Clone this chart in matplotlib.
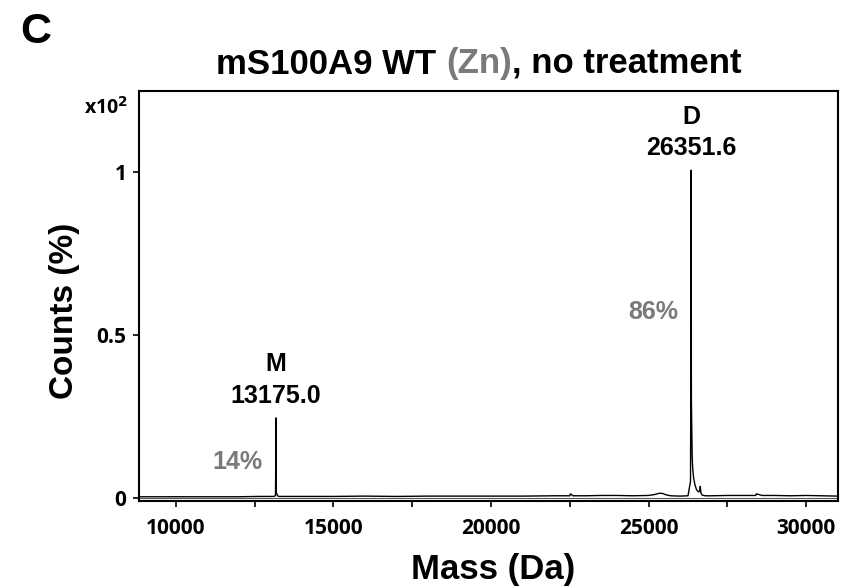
import matplotlib.pyplot as plt
import numpy as np

# spectrum (mass in Da, counts in x10^2 %)
mass = [8830, 9500, 10500, 11200, 12000, 12600, 13100, 13160, 13170, 13175, 13180,
        13190, 13230, 13260, 13300, 13600, 14200, 15000, 16000, 17000, 18000,
        19000, 20000, 21000, 22000, 22500, 22520, 22600, 23000, 23500, 24000,
        24500, 25000, 25200, 25350, 25450, 25550, 25700, 26000, 26250, 26330,
        26345, 26351, 26358, 26370, 26385, 26400, 26430, 26470, 26520, 26580,
        26620, 26640, 26660, 26700, 26800, 27000, 27500, 28000, 28400, 28420,
        28600, 29000, 29500, 30000, 30500, 31010]
counts = [0.003, 0.003, 0.003, 0.003, 0.003, 0.004, 0.004, 0.006, 0.10, 0.245, 0.02,
          0.015, 0.006, 0.004, 0.004, 0.004, 0.004, 0.004, 0.005, 0.004, 0.005,
          0.005, 0.005, 0.005, 0.006, 0.006, 0.012, 0.006, 0.006, 0.007, 0.007,
          0.006, 0.007, 0.010, 0.014, 0.013, 0.009, 0.006, 0.005, 0.006, 0.05,
          0.5, 1.005, 0.3, 0.21, 0.12, 0.09, 0.06, 0.04, 0.025, 0.018,
          0.02, 0.035, 0.015, 0.008, 0.006, 0.006, 0.007, 0.007, 0.007, 0.012,
          0.007, 0.007, 0.006, 0.007, 0.006, 0.005]

peak_labels = [("M", "13175.0", 13175, 0.245), ("D", "26351.6", 26351.6, 1.005)]
share_labels = [("14%", 11950, 0.11), ("86%", 25150, 0.57)]

x_ticks = [10000, 15000, 20000, 25000, 30000]
x_minor = [12500, 17500, 22500, 27500]
y_ticks = [0, 0.5, 1]
y_ticklabels = ["0", "0.5", "1"]

arial = ['Liberation Sans', 'DejaVu Sans']
tickfont = ['Open Sans', 'DejaVu Sans']
grey = "#7a7a7a"

fig = plt.figure(figsize=(8.42, 5.88), dpi=100)
ax = fig.add_axes([139 / 842, 1 - 501 / 588, (838 - 139) / 842, (501 - 91) / 588])

ax.plot(mass, counts, c="black", lw=1.0)
ax.axhline(0.0, c="#555555", lw=0.8)

ax.set_xlim(8830, 31010)
ax.set_ylim(-0.01, 1.248)

ax.set_xticks(x_ticks)
ax.set_xticks(x_minor, minor=True)
ax.set_xticklabels([str(t) for t in x_ticks], family=tickfont, fontweight='bold', fontsize=15)
ax.set_yticks(y_ticks)
ax.set_yticklabels(y_ticklabels, family=tickfont, fontweight='bold', fontsize=15)
ax.tick_params(which='both', direction='out', length=4, width=1.2, pad=5)
ax.tick_params(axis='x', pad=8)
for s in ax.spines.values():
    s.set_linewidth(1.5)

ax.set_xlabel('Mass (Da)', family=arial, fontweight='bold', fontsize=25, va='center')
ax.xaxis.set_label_coords(0.506, -0.168)
ax.set_ylabel('Counts (%)', family=arial, fontweight='bold', fontsize=24, va='center')
ax.yaxis.set_label_coords(-0.106, 0.463)

ax.text(-0.015, 1 - 6 / 410, 'x10$^{\\mathbf{2}}$', transform=ax.transAxes, ha='right', va='top',
        family=tickfont, fontweight='bold', fontsize=14)

# peak labels
for name, val, x, y in peak_labels:
    ax.annotate(val, (x, y), xytext=(0, 7), textcoords='offset points', ha='center', va='bottom',
                family=arial, fontweight='bold', fontsize=18)
    ax.annotate(name, (x, y), xytext=(0, 30), textcoords='offset points', ha='center', va='bottom',
                family=arial, fontweight='bold', fontsize=18)

for txt, x, y in share_labels:
    ax.text(x, y, txt, ha='center', va='center', color=grey, family=arial,
            fontweight='bold', fontsize=18)

# title with grey (Zn)
t1 = fig.text(216 / 842, 1 - 64 / 588, 'mS100A9 WT ', ha='left', va='center',
              family=arial, fontweight='bold', fontsize=25)
t2 = ax.annotate('(Zn)', xy=(1, 0), xycoords=t1, va='bottom', ha='left', color=grey,
                 family=arial, fontweight='bold', fontsize=25)
ax.annotate(', no treatment', xy=(1, 0), xycoords=t2, va='bottom', ha='left',
            family=arial, fontweight='bold', fontsize=25)

fig.text(20 / 842, 1 - 32 / 588, 'C', ha='left', va='center', family=arial,
         fontweight='bold', fontsize=31)

fig.savefig('out.png', dpi=100)
